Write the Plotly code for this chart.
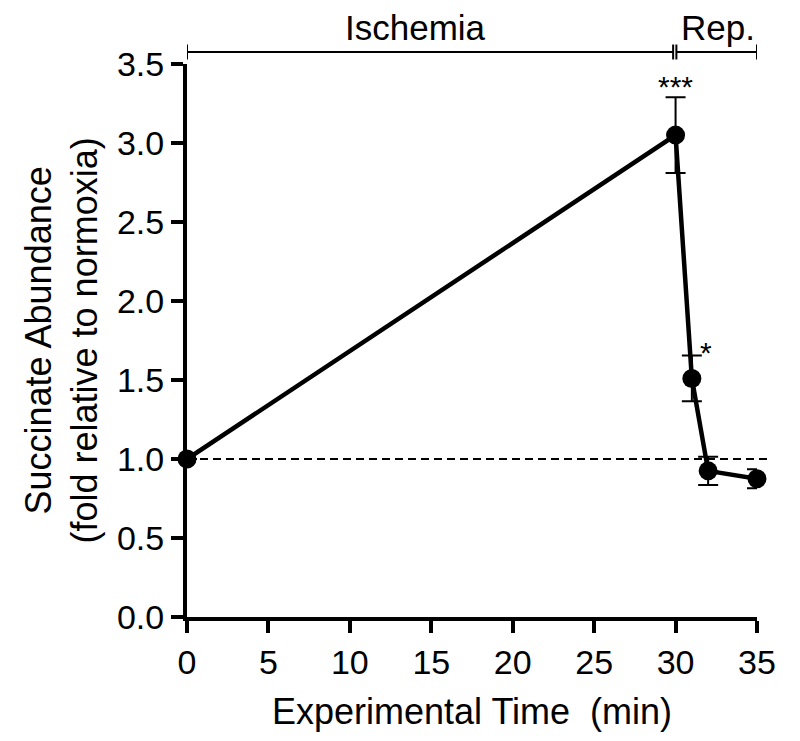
import plotly.graph_objects as go

# Data
time_min = [0, 30, 31, 32, 35]
succinate = [1.00, 3.05, 1.51, 0.925, 0.875]
sem = [0.0, 0.24, 0.145, 0.09, 0.06]
baseline = 1.0
x_ticks = [0, 5, 10, 15, 20, 25, 30, 35]
y_ticks = [0.0, 0.5, 1.0, 1.5, 2.0, 2.5, 3.0, 3.5]
sig_labels = ["", "***", "*", "", ""]
phases = ["Ischemia", "Rep."]
phase_start = [0, 30.05]
phase_end = [29.85, 35]
phase_label_shift = [-15, 1]

FONT = "Arial, Liberation Sans, Helvetica, sans-serif"

fig = go.Figure()
fig.add_trace(go.Scatter(
    x=time_min, y=succinate, mode="lines+markers",
    line=dict(color="black", width=4.5),
    marker=dict(color="black", size=19),
    error_y=dict(type="data", array=sem, color="black", thickness=2, width=10),
    cliponaxis=False, showlegend=False,
))

# baseline dashed line (normoxia)
fig.add_shape(type="line", xref="paper", yref="y", x0=0, x1=1.0175,
              y0=baseline, y1=baseline,
              line=dict(color="black", width=2, dash="8px,5px"), layer="below")

# significance stars
for xv, yv, e, lab in zip(time_min, succinate, sem, sig_labels):
    if not lab:
        continue
    if lab == "***":
        fig.add_annotation(x=xv, y=yv + e, text=lab, showarrow=False,
                           xanchor="center", yanchor="bottom", yshift=-8,
                           font=dict(family=FONT, size=30, color="black"))
    else:
        fig.add_annotation(x=xv, y=yv + e, text=lab, showarrow=False,
                           xanchor="center", yanchor="bottom", xshift=14, yshift=-15,
                           font=dict(family=FONT, size=30, color="black"))

# phase brackets
ybr = 1.0217
tick_h = 0.0135
for name, s, e, sh in zip(phases, phase_start, phase_end, phase_label_shift):
    fig.add_shape(type="line", xref="x", yref="paper", x0=s, x1=e, y0=ybr, y1=ybr,
                  line=dict(color="black", width=2))
    for xv in (s, e):
        fig.add_shape(type="line", xref="x", yref="paper", x0=xv, x1=xv,
                      y0=ybr - tick_h, y1=ybr + tick_h, line=dict(color="black", width=2))
    fig.add_annotation(x=(s + e) / 2, xref="x", y=ybr, yref="paper", text=name,
                       showarrow=False, xanchor="center", yanchor="bottom", yshift=3,
                       xshift=sh, font=dict(family=FONT, size=35, color="black"))

# y title
fig.add_annotation(xref="paper", yref="paper", x=0, y=0.5, xshift=-126,
                   text="Succinate Abundance<br>(fold relative to normoxia)",
                   textangle=-90, showarrow=False, xanchor="center", yanchor="middle",
                   font=dict(family=FONT, size=36, color="black"))

fig.update_layout(
    width=800, height=741,
    margin=dict(l=179, r=51, t=56, b=132),
    paper_bgcolor="white", plot_bgcolor="white",
    font=dict(family=FONT, color="black"),
    xaxis=dict(range=[0, 35], tickvals=x_ticks, ticks="outside", ticklen=12, tickwidth=4,
               tickcolor="black", showline=True, linecolor="black", linewidth=4,
               showgrid=False, zeroline=False, tickfont=dict(size=34),
               title=dict(text="Experimental Time  (min)", font=dict(size=36), standoff=20)),
    yaxis=dict(range=[0, 3.5], tickvals=y_ticks, tickformat=".1f", ticks="outside",
               ticklen=12, tickwidth=4, tickcolor="black", showline=True,
               linecolor="black", linewidth=4, showgrid=False, zeroline=False,
               tickfont=dict(size=34)),
)

fig.write_html("out.html")
